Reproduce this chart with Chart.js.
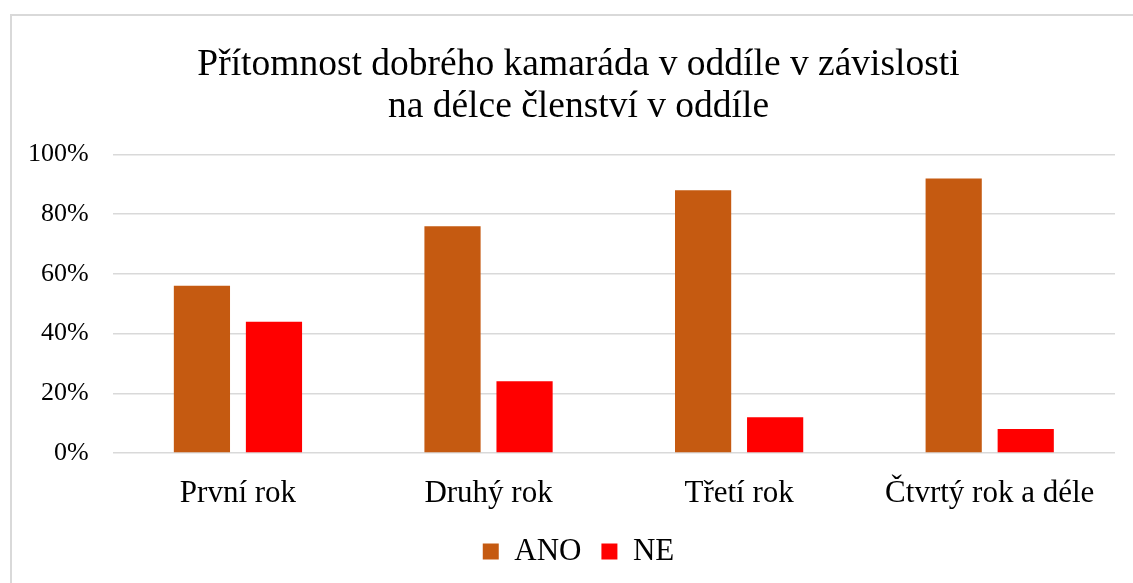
<!DOCTYPE html>
<html lang="cs">
<head>
  <meta charset="UTF-8">
  <title>Přítomnost dobrého kamaráda v oddíle</title>
  <script src="https://cdn.jsdelivr.net/npm/chart.js"></script>
  <style>
    html, body {
      margin: 0;
      padding: 0;
      background: #fff;
      overflow: hidden;
    }
    .frame {
      position: absolute;
      left: 10px;
      top: 14px;
      width: 1140px;
      height: 600px;
      border: 2px solid #d9d9d9;
    }
    .wrap {
      position: absolute;
      left: 0;
      top: 0;
      width: 1133px;
      height: 583px;
    }
  </style>
</head>
<body>
  <div class="frame"></div>
  <div class="wrap">
    <canvas id="chart"></canvas>
  </div>

  <script>
    // Data
    const categories = ["První rok", "Druhý rok", "Třetí rok", "Čtvrtý rok a déle"];
    const anoValues = [56, 76, 88, 92];
    const neValues = [44, 24, 12, 8];

    const serif = "'Liberation Serif', 'Times New Roman', serif";

    // the original centres title and legend on the (cropped) frame, not the plot
    const shiftBoxes = {
      id: "shiftBoxes",
      afterLayout(chart) {
        for (const box of [chart.titleBlock, chart.legend]) {
          if (!box) continue;
          box.left += 19;
          box.right += 19;
        }
      }
    };

    const ctx = document.getElementById("chart").getContext("2d");
    new Chart(ctx, {
      type: "bar",
      data: {
        labels: categories,
        datasets: [
          { label: "ANO", data: anoValues, backgroundColor: "#C55A11" },
          { label: "NE", data: neValues, backgroundColor: "#FF0000" }
        ]
      },
      plugins: [shiftBoxes],
      options: {
        responsive: true,
        maintainAspectRatio: false,
        animation: false,
        categoryPercentage: 0.575,
        barPercentage: 0.78,
        layout: { padding: { left: 4, right: 18, top: 22, bottom: 6 } },
        plugins: {
          title: {
            display: true,
            text: ["Přítomnost dobrého kamaráda v oddíle v závislosti", "na délce členství v oddíle"],
            color: "#000",
            font: { family: serif, size: 37.5, weight: "normal", lineHeight: 1.1 },
            padding: { top: 23, bottom: 27 }
          },
          legend: {
            position: "bottom",
            labels: {
              color: "#000",
              font: { family: serif, size: 31 },
              boxWidth: 16,
              boxHeight: 16,
              padding: 20
            }
          },
          tooltip: { enabled: false }
        },
        scales: {
          x: {
            grid: { display: false },
            border: { display: false },
            ticks: { color: "#000", font: { family: serif, size: 31, lineHeight: 0.5 }, padding: 25 },
            afterFit: (scale) => { scale.height = 63; }
          },
          y: {
            min: 0,
            max: 100,
            grid: { color: "#d9d9d9", lineWidth: 1.5, drawTicks: false },
            border: { display: false },
            ticks: {
              stepSize: 20,
              color: "#000",
              font: { family: serif, size: 26 },
              padding: 24,
              callback: (v) => v + "%"
            }
          }
        }
      }
    });
  </script>
</body>
</html>
